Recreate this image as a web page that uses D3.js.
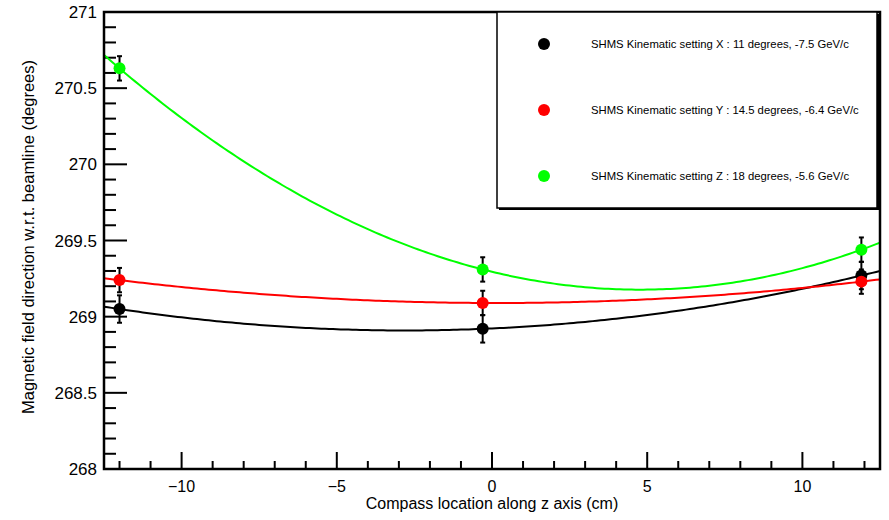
<!DOCTYPE html>
<html lang="en">
<head>
<meta charset="UTF-8">
<title>Magnetic field direction vs compass location</title>
<style>
    body { margin: 0; background: #fff; color: #000; }
    text { font-family: "Liberation Sans", Arial, sans-serif; fill: #000; }
</style>
</head>
<body>
<div id="chart"></div>
<script src="https://d3js.org/d3.v7.min.js"></script>
<script>
// compass positions (cm) for each kinematic setting
const positions = [-12, -0.3, 11.9];

// measured field direction (degrees) and errors
const settingX = [269.05, 268.92, 269.27];
const settingY = [269.24, 269.09, 269.23];
const settingZ = [270.63, 269.31, 269.44];
const errX = [0.09, 0.09, 0.09];
const errY = [0.08, 0.08, 0.08];
const errZ = [0.08, 0.08, 0.08];

const seriesNames = [
    "SHMS Kinematic setting X : 11 degrees, -7.5 GeV/c",
    "SHMS Kinematic setting Y : 14.5 degrees, -6.4 GeV/c",
    "SHMS Kinematic setting Z : 18 degrees, -5.6 GeV/c"
];
const seriesColors = ["#000000", "#ff0000", "#00ff00"];

const xTicks = [-10, -5, 0, 5, 10];
const xMinorTicks = [-12, -11, -9, -8, -7, -6, -4, -3, -2, -1, 1, 2, 3, 4, 6, 7, 8, 9, 11, 12];
const yTicks = [268, 268.5, 269, 269.5, 270, 270.5, 271];
const yMinorTicks = [268.1, 268.2, 268.3, 268.4, 268.6, 268.7, 268.8, 268.9,
                     269.1, 269.2, 269.3, 269.4, 269.6, 269.7, 269.8, 269.9,
                     270.1, 270.2, 270.3, 270.4, 270.6, 270.7, 270.8, 270.9];

const width = 889, height = 520;
const box = { l: 104, r: 880, t: 12, b: 469 };

const svg = d3.select("#chart").append("svg")
    .attr("width", width)
    .attr("height", height);

const x = d3.scaleLinear().domain([-12.5, 12.5]).range([box.l, box.r]);
const y = d3.scaleLinear().domain([268, 271]).range([box.b, box.t]);

// quadratic through the three measured points (pol2 fit)
function pol2(xs, ys) {
    return function(t) {
        let s = 0;
        for (let i = 0; i < 3; i++) {
            let l = 1;
            for (let j = 0; j < 3; j++) {
                if (j !== i) l *= (t - xs[j]) / (xs[i] - xs[j]);
            }
            s += ys[i] * l;
        }
        return s;
    };
}

const series = [
    { vals: settingX, errs: errX, color: seriesColors[0] },
    { vals: settingY, errs: errY, color: seriesColors[1] },
    { vals: settingZ, errs: errZ, color: seriesColors[2] }
];

const defs = svg.append("defs");
defs.append("clipPath").attr("id", "frameClip")
    .append("rect").attr("x", box.l).attr("y", box.t)
    .attr("width", box.r - box.l).attr("height", box.b - box.t);

const plot = svg.append("g");

// inward ticks, drawn like the error bars: one line each
const tickGroup = plot.append("g");
xTicks.forEach(v => {
    tickGroup.append("line").attr("x1", x(v)).attr("x2", x(v)).attr("y1", box.b).attr("y2", box.b - 17)
        .attr("stroke", "#000").attr("stroke-width", 2);
});
xMinorTicks.forEach(v => {
    tickGroup.append("line").attr("x1", x(v)).attr("x2", x(v)).attr("y1", box.b).attr("y2", box.b - 8)
        .attr("stroke", "#000").attr("stroke-width", 2);
});
yTicks.forEach(v => {
    tickGroup.append("line").attr("x1", box.l).attr("x2", box.l + 23).attr("y1", y(v)).attr("y2", y(v))
        .attr("stroke", "#000").attr("stroke-width", 2);
});
yMinorTicks.forEach(v => {
    tickGroup.append("line").attr("x1", box.l).attr("x2", box.l + 12).attr("y1", y(v)).attr("y2", y(v))
        .attr("stroke", "#000").attr("stroke-width", 2);
});

// fit curves
const sampleX = d3.range(0, 201).map(i => x.invert(box.l + (box.r - box.l) * i / 200));
series.forEach(s => {
    const f = pol2(positions, s.vals);
    plot.append("path")
        .attr("clip-path", "url(#frameClip)")
        .attr("d", d3.line().x(t => x(t)).y(t => y(f(t)))(sampleX))
        .attr("fill", "none")
        .attr("stroke", s.color)
        .attr("stroke-width", 2);
});

// error bars and markers
series.forEach(s => {
    const g = plot.append("g");
    positions.forEach((p, i) => {
        const cx = x(p);
        const y1 = y(s.vals[i] + s.errs[i]), y0 = y(s.vals[i] - s.errs[i]);
        g.append("line").attr("x1", cx).attr("x2", cx).attr("y1", y1).attr("y2", y0)
            .attr("stroke", "#000").attr("stroke-width", 2);
        [y1, y0].forEach(yy => {
            g.append("line").attr("x1", cx - 2.5).attr("x2", cx + 2.5).attr("y1", yy).attr("y2", yy)
                .attr("stroke", "#000").attr("stroke-width", 2);
        });
        g.append("circle").attr("cx", cx).attr("cy", y(s.vals[i])).attr("r", 6)
            .attr("fill", s.color);
    });
});

// tick labels
svg.append("g").selectAll("text").data(xTicks).join("text")
    .attr("x", d => x(d)).attr("y", box.b + 23)
    .attr("text-anchor", "middle")
    .style("font-size", "16px")
    .text(d => d3.format("")(d).replace("-", "\u2212"));

svg.append("g").selectAll("text").data(yTicks).join("text")
    .attr("x", box.l - 7).attr("y", d => y(d) + 6)
    .attr("text-anchor", "end")
    .style("font-size", "17px")
    .text(d => d3.format("")(d));

// frame
svg.append("rect")
    .attr("x", box.l).attr("y", box.t)
    .attr("width", box.r - box.l).attr("height", box.b - box.t)
    .attr("fill", "none").attr("stroke", "#000").attr("stroke-width", 2.5);

// axis titles
svg.append("text")
    .attr("x", x(0)).attr("y", 509)
    .attr("text-anchor", "middle")
    .style("font-size", "16px")
    .text("Compass location along z axis (cm)");

svg.append("text")
    .attr("transform", "translate(34,237) rotate(-90)")
    .attr("text-anchor", "middle")
    .style("font-size", "16.5px")
    .text("Magnetic field direction w.r.t. beamline (degrees)");

// legend box with shadow
const lg = { x: 497, y: 12, w: 380, h: 196 };
svg.append("rect").attr("x", lg.x + 2).attr("y", lg.y + 2).attr("width", lg.w).attr("height", lg.h)
    .attr("fill", "#000");
svg.append("rect").attr("x", lg.x).attr("y", lg.y).attr("width", lg.w).attr("height", lg.h)
    .attr("fill", "#fff").attr("stroke", "#000").attr("stroke-width", 1.5);

const legend = svg.append("g");
const rowY = d3.scalePoint().domain(d3.range(3)).range([44, 176]);
seriesNames.forEach((name, i) => {
    legend.append("circle").attr("cx", 544).attr("cy", rowY(i)).attr("r", 6)
        .attr("fill", seriesColors[i]);
    legend.append("text").attr("x", 591).attr("y", rowY(i) + 4)
        .style("font-size", "11.3px")
        .text(name);
});
</script>
</body>
</html>
